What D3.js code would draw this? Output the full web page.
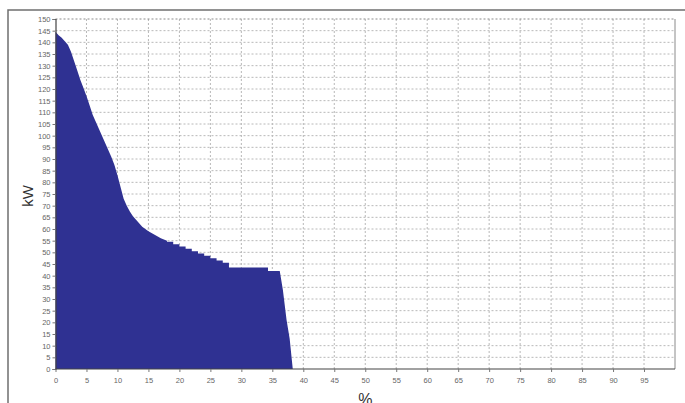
<!DOCTYPE html>
<html>
<head>
<meta charset="utf-8">
<script src="https://cdn.jsdelivr.net/npm/d3@7"></script>
<style>
  html, body { margin: 0; padding: 0; background: #fff; overflow: hidden; }
  svg { display: block; font-family: Arial, "Liberation Sans", sans-serif; }
</style>
</head>
<body>
<svg id="chart" width="685" height="403"></svg>
<script>
// duration curve (percent of time -> kW)
// smooth upper part
const pctHigh = [0, 0.5, 1, 1.5, 2, 2.5, 3, 3.5, 4, 4.5, 5, 5.5, 6, 6.5, 7, 7.5, 8, 8.5, 9, 9.5,
  10, 10.5, 11, 11.5, 12, 12.5, 13, 13.5, 14, 15, 16, 17, 18];
const kwHigh = [144.5, 143, 142, 140.5, 139, 136, 132, 128, 124, 120.5, 117, 113, 109, 106, 103, 100, 97, 94, 91, 87.5,
  83, 78, 73, 70, 67.5, 65.5, 64, 62.5, 61, 59, 57.5, 56, 55];
// staircase middle part (value held until next step)
const pctStep = [18, 19, 20, 21, 22, 23, 24, 25, 26, 27, 28, 34.3, 36.2];
const kwStep = [54.5, 53.5, 52.5, 51.5, 50.5, 49.5, 48.5, 47.5, 46.5, 45.5, 43.5, 42, 42];
// drop-off at the end
const pctLow = [36.2, 36.7, 37.3, 37.8, 38.3];
const kwLow = [42, 34, 21, 13, 0];

const xTicks = d3.range(0, 100, 5);   // 0..95
const yTicks = d3.range(0, 155, 5);   // 0..150

const svg = d3.select('#chart');
const width = 685, height = 403;

const x = d3.scaleLinear().domain([0, 100]).range([55.5, 675]);
const y = d3.scaleLinear().domain([0, 150]).range([369, 19]);

// outer frame (top + left edges)
svg.append('path')
  .attr('d', `M8,${height}V10H${width}`)
  .attr('fill', 'none')
  .attr('stroke', '#6f6f6f')
  .attr('stroke-width', 1.5);

// grid
const grid = svg.append('g').attr('class', 'grid');
grid.selectAll('.gx').data(xTicks.filter(d => d > 0)).enter().append('line')
  .attr('x1', d => x(d)).attr('x2', d => x(d))
  .attr('y1', y(150)).attr('y2', y(0))
  .attr('stroke', '#b8b8b8').attr('stroke-dasharray', '2,2');
grid.selectAll('.gy').data(yTicks.filter(d => d > 0)).enter().append('line')
  .attr('x1', x(0)).attr('x2', x(100))
  .attr('y1', d => y(d)).attr('y2', d => y(d))
  .attr('stroke', d => d === 150 ? '#8a8a8a' : '#b8b8b8')
  .attr('stroke-dasharray', '2,2');

// area, built from three pieces in one path
const toRows = (ps, vs) => ps.map((p, i) => ({ p: p, v: vs[i] }));
const areaLinear = d3.area()
  .x(d => x(d.p)).y0(y(0)).y1(d => y(d.v))
  .curve(d3.curveLinear);
const areaStep = d3.area()
  .x(d => x(d.p)).y0(y(0)).y1(d => y(d.v))
  .curve(d3.curveStepAfter);
const areaD = areaLinear(toRows(pctHigh, kwHigh)) +
  areaStep(toRows(pctStep, kwStep)) +
  areaLinear(toRows(pctLow, kwLow));
svg.append('path')
  .attr('class', 'duration')
  .attr('d', areaD)
  .attr('fill', '#2f3192');

// right border
svg.append('line')
  .attr('x1', x(100)).attr('x2', x(100))
  .attr('y1', y(150)).attr('y2', y(0))
  .attr('stroke', '#8a8a8a');

// axes
const yAxis = d3.axisLeft(y).tickValues(yTicks).tickSize(3).tickPadding(2);
const xAxis = d3.axisBottom(x).tickValues(xTicks).tickSize(3).tickPadding(6);

const gy = svg.append('g').attr('transform', `translate(${x(0)},0)`).call(yAxis);
const gx = svg.append('g').attr('transform', `translate(0,${y(0)})`).call(xAxis);
[gx, gy].forEach(g => {
  g.select('.domain').attr('stroke', '#444').attr('stroke-width', 1.2);
  g.selectAll('.tick line').attr('stroke', '#777');
  g.selectAll('.tick text')
    .attr('fill', '#666')
    .style('font-size', '7.5px')
    .style('font-family', 'Arial, "Liberation Sans", sans-serif');
});
gx.select('.domain').attr('d', `M${x(0)},0H${x(100)}`);

// axis titles
svg.append('text')
  .attr('transform', `translate(33,196) rotate(-90)`)
  .attr('text-anchor', 'middle')
  .attr('fill', '#333')
  .style('font-size', '15px')
  .text('kW');
svg.append('text')
  .attr('x', x(50))
  .attr('y', 405)
  .attr('text-anchor', 'middle')
  .attr('fill', '#333')
  .style('font-size', '16px')
  .text('%');
</script>
</body>
</html>
